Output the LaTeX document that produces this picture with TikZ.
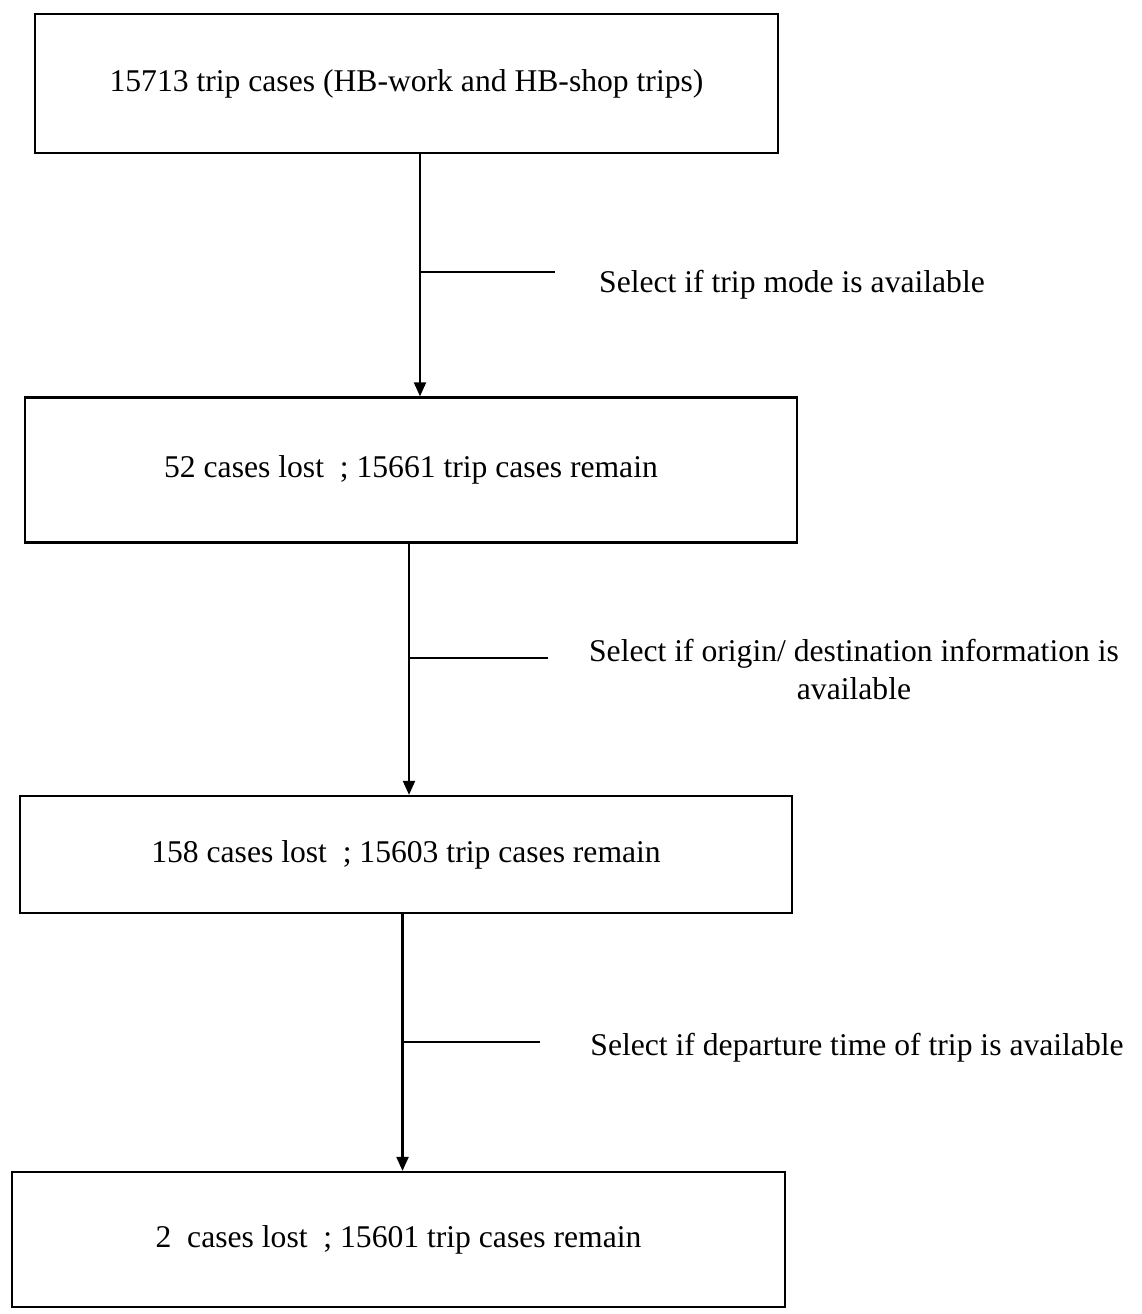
\documentclass[tikz,border=0pt]{standalone}
\usepackage{fontspec}
\setmainfont{Liberation Serif}
\usetikzlibrary{arrows.meta,positioning}
\tikzset{
  >={Triangle[length=2.8mm,width=2.4mm]},
  stage/.style={draw=black,line width=1.3pt,rectangle,minimum width=#1,
    inner sep=0pt,font=\fontsize{18}{22}\selectfont,align=center},
  stage/.default=15.44cm,
  flow/.style={->,line width=1.2pt,draw=black},
  branch/.style={line width=1.2pt,draw=black},
  tag/.style={font=\fontsize{18}{22}\selectfont,align=center},
}
\begin{document}
\begin{tikzpicture}
    \useasboundingbox (0,0) rectangle (22.82,-26.28);
    \node[stage=14.86cm,minimum height=2.78cm] (b1) at (8.13,-1.67) {15713 trip cases (HB-work and HB-shop trips)};
    \node[stage,minimum height=2.90cm] (b2) at (8.22,-9.40) {52 cases lost\ \ ; 15661 trip cases remain};
    \node[stage,minimum height=2.34cm] (b3) at (8.12,-17.09) {158 cases lost\ \ ; 15603 trip cases remain};
    \node[stage=15.46cm,minimum height=2.70cm] (b4) at (7.97,-24.79) {2\ \ cases lost\ \ ; 15601 trip cases remain};
    % selection steps
    \coordinate (j1) at (8.40,-5.44);
    \coordinate (e1) at (11.10,-5.44);
    \coordinate (j2) at (8.18,-13.16);
    \coordinate (e2) at (10.96,-13.16);
    \coordinate (j3) at (8.05,-20.84);
    \coordinate (e3) at (10.80,-20.84);
    \draw[flow] (b1.south -| j1) -- (b2.north -| j1);
    \draw[flow] (b2.south -| j2) -- (b3.north -| j2);
    \draw[flow] (b3.south -| j3) -- (b4.north -| j3);
    \draw[branch] (j1) -- (e1);
    \draw[branch] (j2) -- (e2);
    \draw[branch] (j3) -- (e3);
    \node[tag] (s1) at (15.84,-5.70) {Select if trip mode is available};
    \node[tag] (s2) at (17.08,-13.39) {Select if origin/ destination information is\\available};
    \node[tag] (s3) at (17.14,-20.96) {Select if departure time of trip is available};
\end{tikzpicture}
\end{document}
